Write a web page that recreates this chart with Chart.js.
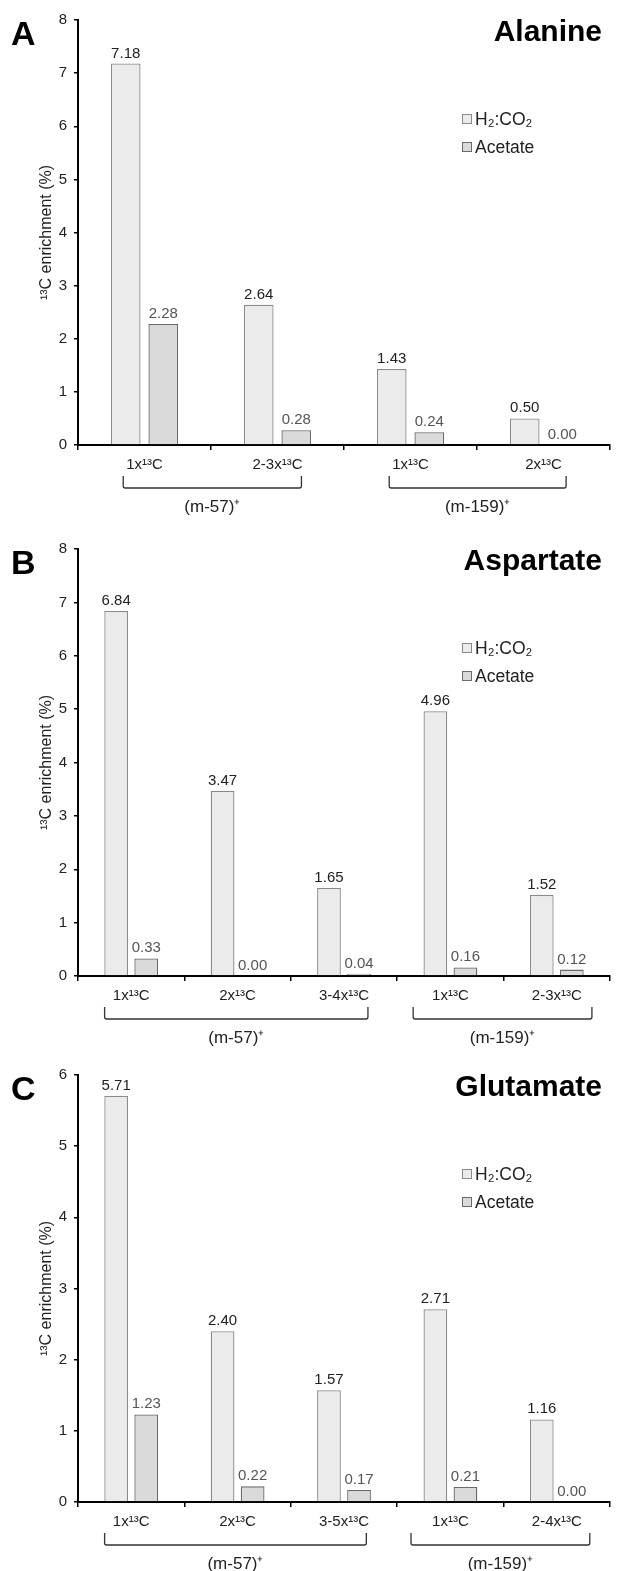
<!DOCTYPE html>
<html>
<head>
<meta charset="utf-8">
<script src="https://cdn.jsdelivr.net/npm/chart.js@4.4.1/dist/chart.umd.min.js"></script>
<style>
  html, body { margin: 0; padding: 0; background: #fff; }
  canvas { display: block; }
</style>
</head>
<body>
<canvas id="chartA" width="617" height="525"></canvas>
<canvas id="chartB" width="617" height="525"></canvas>
<canvas id="chartC" width="617" height="521"></canvas>
<script>
// series names (legend)
const seriesNames = ['H₂:CO₂', 'Acetate'];

// A - Alanine
const alanineLabels = ['1x¹³C', '2-3x¹³C', '1x¹³C', '2x¹³C'];
const alanineH2 = [7.18, 2.64, 1.43, 0.50];
const alanineAcetate = [2.28, 0.28, 0.24, 0.00];
const alanineGroups = ['(m-57)⁺', '(m-159)⁺'];
const alanineGroupSpans = [[0, 1], [2, 3]];

// B - Aspartate
const aspartateLabels = ['1x¹³C', '2x¹³C', '3-4x¹³C', '1x¹³C', '2-3x¹³C'];
const aspartateH2 = [6.84, 3.47, 1.65, 4.96, 1.52];
const aspartateAcetate = [0.33, 0.00, 0.04, 0.16, 0.12];
const aspartateGroups = ['(m-57)⁺', '(m-159)⁺'];
const aspartateGroupSpans = [[0, 2], [3, 4]];

// C - Glutamate
const glutamateLabels = ['1x¹³C', '2x¹³C', '3-5x¹³C', '1x¹³C', '2-4x¹³C'];
const glutamateH2 = [5.71, 2.40, 1.57, 2.71, 1.16];
const glutamateAcetate = [1.23, 0.22, 0.17, 0.21, 0.00];
const glutamateGroups = ['(m-57)⁺', '(m-159)⁺'];
const glutamateGroupSpans = [[0, 2], [3, 4]];

const yTitle = '¹³C enrichment (%)';
const FONT = '"Liberation Sans", Arial, Helvetica, sans-serif';
Chart.defaults.font.family = FONT;

// colours
const h2Fill = '#ebebeb', h2Border = '#8a8a8a';
const acFill = '#dadada', acBorder = '#6a6a6a';

// draws value labels, brackets, group names, panel letter, title and legend
const panelDecor = {
  id: 'panelDecor',
  afterDatasetsDraw(chart) {
    const ctx = chart.ctx;
    ctx.save();
    ctx.font = '15px ' + FONT;
    ctx.textAlign = 'center';
    ctx.textBaseline = 'alphabetic';
    chart.data.datasets.forEach((ds, di) => {
      const meta = chart.getDatasetMeta(di);
      ctx.fillStyle = di === 0 ? '#222' : '#555';
      meta.data.forEach((bar, i) => {
        ctx.fillText(ds.data[i].toFixed(2), bar.x, bar.y - 6);
      });
    });
    ctx.restore();
  },
  afterDraw(chart, args, opts) {
    const ctx = chart.ctx;
    const area = chart.chartArea;
    const xs = chart.scales.x;
    const catW = xs.getPixelForValue(1) - xs.getPixelForValue(0);
    ctx.save();

    // brackets + group labels
    ctx.strokeStyle = '#333';
    ctx.lineWidth = 1.3;
    opts.groups.forEach((g, gi) => {
      const span = opts.spans[gi];
      const inset = opts.insets[gi];
      const x1 = xs.getPixelForValue(span[0]) - inset[0] * catW;
      const x2 = xs.getPixelForValue(span[1]) + inset[1] * catW;
      const yt = area.bottom + 31, yb = area.bottom + 43;
      ctx.beginPath();
      ctx.moveTo(x1, yt);
      ctx.lineTo(x1, yb - 2);
      ctx.quadraticCurveTo(x1, yb, x1 + 2, yb);
      ctx.lineTo(x2 - 2, yb);
      ctx.quadraticCurveTo(x2, yb, x2, yb - 2);
      ctx.lineTo(x2, yt);
      ctx.stroke();
      ctx.fillStyle = '#222';
      ctx.font = '17px ' + FONT;
      ctx.textAlign = 'center';
      ctx.textBaseline = 'middle';
      ctx.fillText(g, (x1 + x2) / 2, area.bottom + 62);
    });

    // panel letter and title
    ctx.fillStyle = '#000';
    ctx.font = 'bold 34px ' + FONT;
    ctx.textAlign = 'left';
    ctx.textBaseline = 'alphabetic';
    ctx.fillText(opts.letter, 11, area.top + 25);
    ctx.font = 'bold 30px ' + FONT;
    ctx.textAlign = 'right';
    ctx.fillText(opts.title, 602, area.top + 21);

    // legend
    chart.data.datasets.forEach((ds, di) => {
      const cy = area.top + 99 + di * 28;
      ctx.fillStyle = ds.backgroundColor;
      ctx.strokeStyle = ds.borderColor;
      ctx.lineWidth = 1;
      ctx.fillRect(462.5, cy - 4.5, 9, 9);
      ctx.strokeRect(462.5, cy - 4.5, 9, 9);
      ctx.fillStyle = '#222';
      ctx.font = '17.5px ' + FONT;
      ctx.textAlign = 'left';
      ctx.textBaseline = 'middle';
      ctx.fillText(ds.label, 475, cy + 1);
    });
    ctx.restore();
  }
};

function makePanel(id, labels, h2, acetate, yMax, pad, decor) {
  return new Chart(document.getElementById(id), {
    type: 'bar',
    data: {
      labels: labels,
      datasets: [
        { label: seriesNames[0], data: h2, backgroundColor: h2Fill, borderColor: h2Border,
          borderWidth: 1.3, categoryPercentage: 0.565, barPercentage: 0.79 },
        { label: seriesNames[1], data: acetate, backgroundColor: acFill, borderColor: acBorder,
          borderWidth: 1.3, categoryPercentage: 0.565, barPercentage: 0.79 }
      ]
    },
    options: {
      responsive: false,
      animation: false,
      layout: { padding: { left: 0, right: 7, top: pad.top, bottom: pad.bottom } },
      plugins: {
        legend: { display: false },
        tooltip: { enabled: false },
        panelDecor: decor
      },
      scales: {
        x: {
          grid: { offset: true, drawOnChartArea: false, tickLength: 5, color: '#000', lineWidth: 1.5 },
          border: { display: true, color: '#000', width: 2 },
          ticks: { color: '#222', font: { size: 15 }, padding: 6, maxRotation: 0, autoSkip: false },
          afterFit: s => { s.height = 30; }
        },
        y: {
          min: 0, max: yMax,
          grid: { drawOnChartArea: false, tickLength: 4, color: '#000', lineWidth: 1.5 },
          border: { display: true, color: '#000', width: 2 },
          ticks: { stepSize: 1, color: '#222', font: { size: 15 }, padding: 7 },
          title: { display: true, text: yTitle, color: '#222', font: { size: 16 }, padding: { top: 37, bottom: 0 } },
          afterFit: s => { s.width = 78; }
        }
      }
    },
    plugins: [panelDecor]
  });
}

makePanel('chartA', alanineLabels, alanineH2, alanineAcetate, 8, { top: 20, bottom: 50 },
  { letter: 'A', title: 'Alanine', groups: alanineGroups, spans: alanineGroupSpans,
    insets: [[0.16, 0.18], [0.16, 0.17]] });
makePanel('chartB', aspartateLabels, aspartateH2, aspartateAcetate, 8, { top: 24, bottom: 44 },
  { letter: 'B', title: 'Aspartate', groups: aspartateGroups, spans: aspartateGroupSpans,
    insets: [[0.25, 0.225], [0.35, 0.33]] });
makePanel('chartC', glutamateLabels, glutamateH2, glutamateAcetate, 6, { top: 25, bottom: 39 },
  { letter: 'C', title: 'Glutamate', groups: glutamateGroups, spans: glutamateGroupSpans,
    insets: [[0.25, 0.21], [0.37, 0.31]] });
</script>
</body>
</html>
